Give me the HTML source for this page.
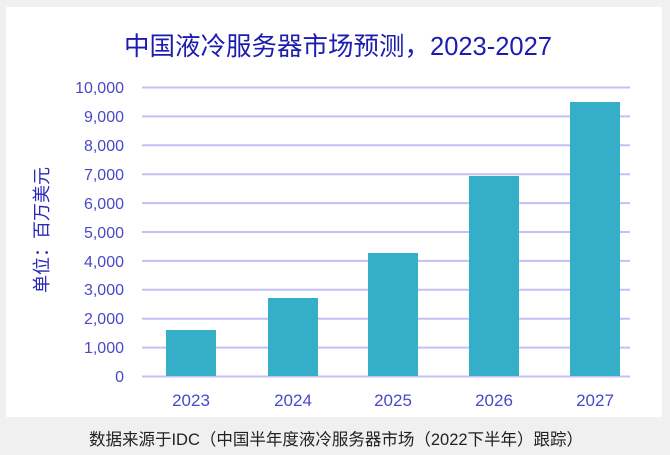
<!DOCTYPE html>
<html><head><meta charset="utf-8"><style>
html,body{margin:0;padding:0;background:#f0f0f0;}
body{width:670px;height:455px;position:relative;overflow:hidden;font-family:"Liberation Sans","Noto Sans CJK SC",sans-serif;}
</style></head><body>
<svg width="670" height="455" xmlns="http://www.w3.org/2000/svg" style="position:absolute;left:0;top:0">
<rect x="6" y="7" width="656" height="410" fill="#fff"/>
<text x="338" y="55" text-anchor="middle" font-size="25.5" fill="#1c1caf" font-family="Liberation Sans, Noto Sans CJK SC, sans-serif">中国液冷服务器市场预测，2023-2027</text>
<g stroke="#c4c0f4" stroke-width="2">
<line x1="142" x2="630" y1="87.5" y2="87.5"/>
<line x1="142" x2="630" y1="116.4" y2="116.4"/>
<line x1="142" x2="630" y1="145.3" y2="145.3"/>
<line x1="142" x2="630" y1="174.2" y2="174.2"/>
<line x1="142" x2="630" y1="203.1" y2="203.1"/>
<line x1="142" x2="630" y1="232" y2="232"/>
<line x1="142" x2="630" y1="260.9" y2="260.9"/>
<line x1="142" x2="630" y1="289.8" y2="289.8"/>
<line x1="142" x2="630" y1="318.7" y2="318.7"/>
<line x1="142" x2="630" y1="347.6" y2="347.6"/>
<line x1="142" x2="630" y1="376.5" y2="376.5"/>
</g>
<g fill="#35afc8">
<rect x="166" y="330" width="50" height="46"/>
<rect x="268" y="298" width="50" height="78"/>
<rect x="368" y="253" width="50" height="123"/>
<rect x="469" y="176" width="50" height="200"/>
<rect x="570" y="102" width="50" height="274"/>
</g>
<g fill="#4a48c8" font-size="16" text-anchor="end">
<text x="124" y="93">10,000</text>
<text x="124" y="122">9,000</text>
<text x="124" y="151">8,000</text>
<text x="124" y="180">7,000</text>
<text x="124" y="209">6,000</text>
<text x="124" y="238">5,000</text>
<text x="124" y="267">4,000</text>
<text x="124" y="295">3,000</text>
<text x="124" y="324">2,000</text>
<text x="124" y="353">1,000</text>
<text x="124" y="382">0</text>
</g>
<g fill="#4a48c8" font-size="17" text-anchor="middle">
<text x="191" y="406">2023</text>
<text x="293" y="406">2024</text>
<text x="393" y="406">2025</text>
<text x="494" y="406">2026</text>
<text x="595" y="406">2027</text>
</g>
<text transform="translate(48,230) rotate(-90)" text-anchor="middle" font-size="18" fill="#2a2ab8">单位：百万美元</text>
<text x="336" y="445" text-anchor="middle" font-size="16.5" fill="#222">数据来源于IDC（中国半年度液冷服务器市场（2022下半年）跟踪）</text>
</svg>
</body></html>
